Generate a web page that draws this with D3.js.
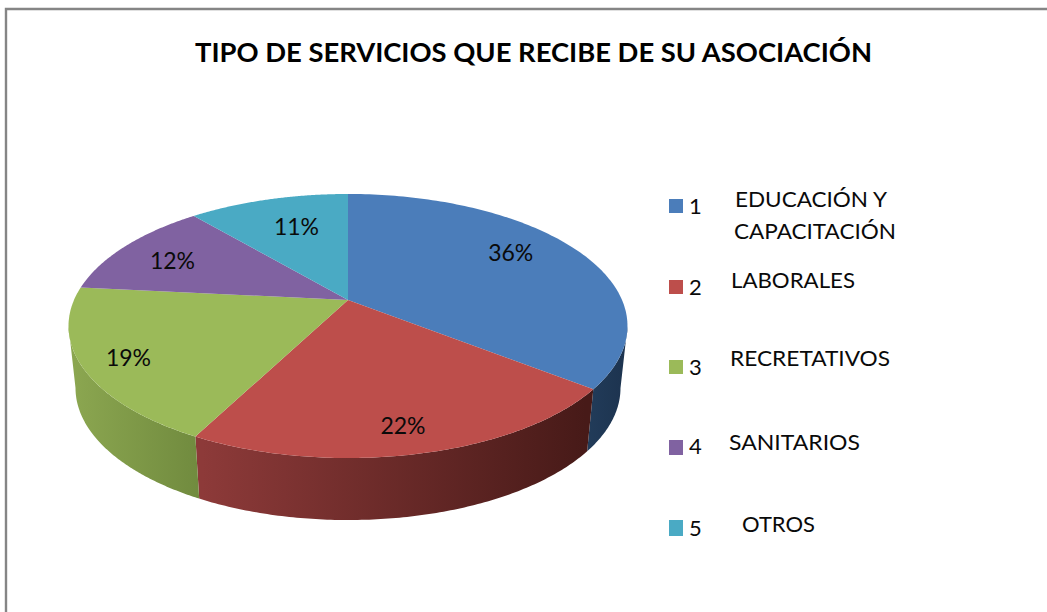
<!DOCTYPE html>
<html><head><meta charset="utf-8">
<script src="https://cdn.jsdelivr.net/npm/d3@7/dist/d3.min.js"></script>
<style>html,body{margin:0;padding:0;background:#fff}svg{display:block}text{font-family:Lato,"Open Sans",sans-serif;fill:#0a0a0a}</style>
</head><body><svg id="c" width="1047" height="612"></svg>
<script>
const titleText = "TIPO DE SERVICIOS QUE RECIBE DE SU ASOCIACIÓN";
const categories = ["1","2","3","4","5"];
const values = [35.6,22,19,12.2,11.2];
const legendNames = [["EDUCACIÓN Y","CAPACITACIÓN"],["LABORALES"],["RECRETATIVOS"],["SANITARIOS"],["OTROS"]];
const colors = ["#4b7dba","#bd4e4b","#9bba59","#8062a1","#4aaac4"];

// layout (separate from data)
const cx=348, cy=300, A=274, a=67.8, c=-0.197, depth=62, baseScale=0.975;
const labelNudge=[[0,-10],[8,26],[-39,13],[-16,0],[7,1]];
const legendBox=[[199,14],[280,14],[360,14],[440,15],[520,16]];
const legendNumBase=[213.5,295,375,454,536];
const legendTextPos=[[[735,207,152],[734,239,162]],[[731,288,124]],[[730,366,160]],[[729,450,131]],[[742,532,73]]];

const svg=d3.select("#c");
function proj(theta,r){const u=r*Math.sin(theta),v=-r*Math.cos(theta),d=1+c*v;
  return [cx+A*u/d,(cy+a*v)/d];}
function base(p){return [cx+(p[0]-cx)*baseScale,p[1]+depth];}
const pie=d3.pie().sort(null).value(d=>d)(values);
const line=d3.line();
function arcPts(s,e,n){return d3.range(n+1).map(i=>proj(s+(e-s)*i/n,1));}

// front-facing range of the rim: from its rightmost point to its leftmost point
const samples=d3.range(0,2*Math.PI,0.002);
const thetaR=samples[d3.greatestIndex(samples,t=>proj(t,1)[0])];
const thetaL=samples[d3.leastIndex(samples,t=>proj(t,1)[0])];

const defs=svg.append("defs");
const grads=[["#223c5a","#1d3450"],["#8d3a39","#471a18"],["#8ba650","#708a3e"],["#5c4676","#5c4676"],["#37798c","#37798c"]];
const gradExtents=[[586,622],[202,586],[74,202],[80,200],[200,348]];
grads.forEach((g,i)=>{
  const lg=defs.append("linearGradient").attr("id","w"+i).attr("gradientUnits","userSpaceOnUse")
    .attr("x1",gradExtents[i][0]).attr("x2",gradExtents[i][1]).attr("y1",0).attr("y2",0);
  lg.append("stop").attr("offset",0).attr("stop-color",g[0]);
  lg.append("stop").attr("offset",1).attr("stop-color",g[1]);
});

const frontPies=pie.map((d,i)=>({i,s:Math.max(d.startAngle,thetaR),e:Math.min(d.endAngle,thetaL)})).filter(d=>d.e>d.s);
svg.append("g").selectAll("path").data(frontPies).join("path")
  .attr("d",d=>{const t=arcPts(d.s,d.e,120);
     return line(t.concat(t.map(base).reverse()))+"Z";})
  .attr("fill",d=>`url(#w${d.i})`);
svg.append("g").selectAll("path").data(pie).join("path")
  .attr("d",d=>line([[cx,cy]].concat(arcPts(d.startAngle,d.endAngle,120)))+"Z")
  .attr("fill",(d,i)=>colors[i]);
const total=d3.sum(values);
svg.append("g").selectAll("text").data(pie).join("text")
  .attr("x",(d,i)=>proj((d.startAngle+d.endAngle)/2,0.7)[0]+labelNudge[i][0])
  .attr("y",(d,i)=>proj((d.startAngle+d.endAngle)/2,0.7)[1]+labelNudge[i][1])
  .attr("dy","0.35em").attr("text-anchor","middle").attr("font-size",23)
  .text(d=>Math.round(d.value/total*100)+"%");
svg.append("path").attr("d","M6,612V9H1047").attr("fill","none").attr("stroke","#858585").attr("stroke-width",2.4);
svg.append("text").attr("x",195).attr("y",62).attr("font-size",26).attr("font-weight",700)
  .attr("textLength",677).attr("lengthAdjust","spacingAndGlyphs").style("fill","#000").text(titleText);
const lg=svg.append("g");
lg.selectAll("rect").data(categories).join("rect")
  .attr("x",669).attr("width",14).attr("y",(d,i)=>legendBox[i][0]).attr("height",(d,i)=>legendBox[i][1])
  .attr("fill",(d,i)=>colors[i]);
lg.selectAll("text.n").data(categories).join("text").attr("class","n")
  .attr("x",689).attr("y",(d,i)=>legendNumBase[i]).attr("font-size",22).text(d=>d);
legendNames.forEach((lines,i)=>lines.forEach((t,j)=>{
  const p=legendTextPos[i][j];
  lg.append("text").attr("x",p[0]).attr("y",p[1]).attr("font-size",22)
    .attr("textLength",p[2]).attr("lengthAdjust","spacingAndGlyphs").text(t);
}));
</script></body></html>
